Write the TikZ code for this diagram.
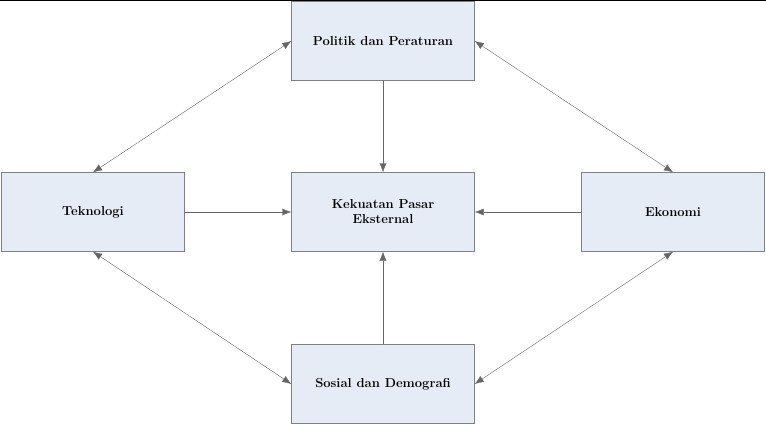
\documentclass[tikz,border=0pt]{standalone}
\usetikzlibrary{arrows.meta}
\definecolor{isi}{HTML}{E6ECF5}
\begin{document}
\begin{tikzpicture}[x=1pt,y=-1pt,
    faktor/.style={draw=gray,fill=isi,minimum width=183pt,minimum height=79pt,
      align=center,font=\fontsize{13}{15}\selectfont\bfseries},
    panah/.style={-{Latex[length=9pt,width=7pt]},gray!80!black},
    dua/.style={{Latex[length=9pt,width=7pt]}-{Latex[length=9pt,width=7pt]},gray!80!black}]
  \useasboundingbox (0,0) rectangle (766,424);
  \draw[black] (0,0.5) -- (766,0.5);

  \node[faktor] (politik) at (383,41) {Politik dan Peraturan};
  \node[faktor] (tekno) at (93,212) {Teknologi};
  \node[faktor] (pasar) at (383,212) {Kekuatan Pasar\\Eksternal};
  \node[faktor] (ekonomi) at (673,212) {Ekonomi};
  \node[faktor] (sosial) at (383,384) {Sosial dan Demografi};

  \draw[panah] (politik) -- (pasar);
  \draw[panah] (tekno) -- (pasar);
  \draw[panah] (ekonomi) -- (pasar);
  \draw[panah] (sosial) -- (pasar);

  \draw[dua] (politik.west) -- (tekno.north);
  \draw[dua] (politik.east) -- (ekonomi.north);
  \draw[dua] (sosial.west) -- (tekno.south);
  \draw[dua] (sosial.east) -- (ekonomi.south);
\end{tikzpicture}
\end{document}
